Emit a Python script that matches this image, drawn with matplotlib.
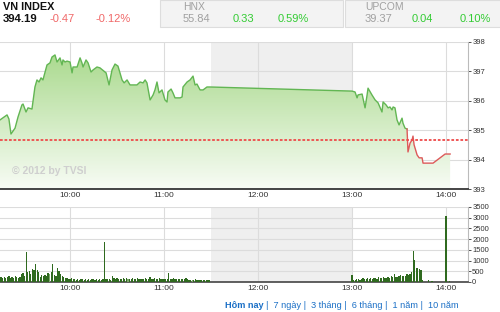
import numpy as np
import matplotlib
matplotlib.use("Agg")
import matplotlib.pyplot as plt
from matplotlib.colors import LinearSegmentedColormap
from matplotlib.patches import Rectangle

plt.rcParams['font.family'] = ['Liberation Sans', 'DejaVu Sans']

# index line: minutes after 09:00 and index value
line_min = [15.3, 19.8, 21.0, 22.3, 24.9, 26.8, 29.3, 30.0, 31.9, 33.2, 35.7, 37.6, 38.9, 40.2,
            41.5, 42.7, 45.3, 47.2, 48.5, 50.4, 51.7, 53.6, 54.9, 55.5, 56.8, 58.1, 60.0, 61.3,
            61.9, 64.5, 66.4, 67.6, 68.3, 70.2, 71.5, 73.4, 74.7, 77.2, 79.1, 83.0, 84.9, 86.8,
            88.7, 90.6, 93.2, 94.5, 96.4, 98.3, 102.7, 104.7, 106.6, 107.9, 109.1, 111.1, 113.0,
            114.2, 115.5, 116.8, 118.7, 120.6, 121.9, 122.5, 124.5, 125.7, 127.0, 130.2, 131.5,
            132.1, 134.7, 136.6, 138.5, 139.8, 141.0, 143.0, 144.9, 147.4, 149.3,
            240.0, 241.9, 243.2, 243.8, 246.4, 248.3, 249.6, 250.2, 252.7, 254.7, 256.6, 259.1,
            259.8, 261.7, 263.0, 264.2, 265.5, 266.2, 267.4, 268.7, 270.0, 271.9, 272.5, 273.8,
            275.1, 275.7, 277.0, 278.3, 278.9, 279.6, 281.5, 282.8, 284.7, 285.3, 291.7, 299.4,
            302.6]
line_val = [395.35, 395.52, 395.38, 394.87, 395.07, 395.45, 395.86, 395.89, 395.62, 395.76,
            395.72, 396.47, 396.71, 396.64, 396.78, 396.71, 397.22, 397.29, 397.49, 397.56,
            397.32, 397.46, 397.22, 397.39, 397.32, 397.35, 397.32, 396.95, 397.15, 397.15,
            397.46, 397.29, 397.15, 397.39, 397.29, 396.98, 397.05, 397.15, 397.12, 396.95,
            396.54, 397.05, 397.25, 397.18, 396.71, 396.61, 396.71, 396.54, 396.54, 396.64,
            396.61, 396.71, 396.61, 396.03, 396.20, 396.37, 396.64, 396.27, 396.37, 396.03,
            395.96, 396.30, 396.40, 396.27, 396.10, 396.10, 396.13, 396.47, 396.64, 396.71,
            396.84, 396.54, 396.57, 396.37, 396.37, 396.47, 396.47,
            396.33, 396.30, 396.10, 396.20, 396.23, 395.76, 396.20, 396.43, 396.20, 396.03,
            395.93, 395.62, 395.96, 395.86, 395.76, 395.79, 395.69, 395.79, 395.76, 395.35,
            395.18, 395.41, 395.24, 395.07, 395.04, 394.26, 394.56, 394.67, 394.80, 394.50,
            394.16, 394.06, 394.06, 393.88, 393.88, 394.19, 394.19]
red_from = 275.1
prev_close = 394.66

# volume per minute, morning from 09:15, afternoon from 13:00
vol_am = [2850,
          220, 180, 250, 200, 230, 260, 190, 240, 210, 270, 230, 200, 250,
          380, 420, 300, 1420, 450, 520, 380, 600, 570, 820, 560, 480, 240,
          330, 280, 350, 300, 420, 380, 450, 830, 320, 280, 650, 520, 380, 300, 250,
          200, 180, 160, 140, 170, 130,
          120, 110, 130, 100, 120, 140, 110, 120, 100, 130, 110, 120, 140, 100, 120, 110, 130, 100, 120,
          1890, 130, 120, 140, 110, 270, 180, 160, 200, 150,
          150, 130, 170, 140, 200, 150, 130, 160, 180, 140, 150, 200, 130, 160, 150,
          140, 170, 130, 150, 220, 160, 140, 200, 150, 130, 170, 150, 140, 160, 130,
          150, 400,
          150, 130, 170, 140, 150, 130, 160, 140, 130, 150, 200,
          120, 100, 110, 90, 100, 120, 90, 100, 110, 80, 100, 90, 110, 80, 90]
vol_pm = [350, 100, 80, 150, 120, 100,
          150, 180, 140, 130, 200, 160, 170, 140, 180, 200, 150,
          220, 200, 180, 250, 210, 190, 230, 200, 260,
          220, 390, 240, 250, 280, 310, 260, 300, 290,
          360, 340, 380, 470, 1450, 1020, 650, 640, 630, 580, 100,
          0, 0, 0, 100, 0, 50, 0, 0, 0, 0, 0, 0, 0, 0, 3100, 0, 50]
vol_am_start = 15
vol_pm_start = 240
light_bars = [32, 82, 123, 279]

hours = [10, 11, 12, 13, 14]
hour_labels = ['10:00', '11:00', '12:00', '13:00', '14:00']
price_ticks = [393, 394, 395, 396, 397, 398]
vol_ticks = [0, 500, 1000, 1500, 2000, 2500, 3000, 3500]

x = 9 + np.array(line_min) / 60
y = np.array(line_val)
xlim = (9 + 15.3 / 60, 9 + 314 / 60)

fig = plt.figure(figsize=(5, 3.12), dpi=100)

# header
fig.patches.append(Rectangle((160 / 500, 1 - 27 / 312), 183 / 500, 27 / 312, transform=fig.transFigure,
                             facecolor='#f3f3f3', edgecolor='#dddddd', lw=0.8))
fig.patches.append(Rectangle((345 / 500, 1 - 27 / 312), 160 / 500, 27 / 312, transform=fig.transFigure,
                             facecolor='#f3f3f3', edgecolor='#dddddd', lw=0.8))

def ftext(px, py, s, **kw):
    return fig.text(px / 500, 1 - py / 312, s, va='center', ha='left', **kw)

ftext(3, 7, 'VN INDEX', fontsize=7.8, fontweight='bold', color='#111111')
ftext(3, 19, '394.19', fontsize=8.2, fontweight='bold', color='#111111')
ftext(49, 19, '-0.47', fontsize=8, color='#f06868')
ftext(96, 19, '-0.12%', fontsize=8, color='#f06868')
ftext(183, 7, 'HNX', fontsize=7.5, color='#a0a0a0')
ftext(183, 19, '55.84', fontsize=8, color='#a0a0a0')
ftext(233, 19, '0.33', fontsize=8, color='#33cc33')
ftext(278, 19, '0.59%', fontsize=8, color='#33cc33')
ftext(365, 7, 'UPCOM', fontsize=7.5, color='#a0a0a0')
ftext(365, 19, '39.37', fontsize=8, color='#a0a0a0')
ftext(412, 19, '0.04', fontsize=8, color='#33cc33')
ftext(460, 19, '0.10%', fontsize=8, color='#33cc33')

# price chart
ax = fig.add_axes([0, 1 - 189 / 312, 468 / 500, 147 / 312])
ax.axvspan(11.5, 13, color='#efefef', lw=0, zorder=0)
cmap = LinearSegmentedColormap.from_list('g', ['#f8fcf5', '#a4d786'])
grad = np.linspace(0, 1, 256).reshape(-1, 1)
im = ax.imshow(grad, extent=[xlim[0], xlim[1], 393, 398], origin='lower', aspect='auto',
               cmap=cmap, zorder=1)
poly = ax.fill_between(x, y, 393, facecolor='none', edgecolor='none')
im.set_clip_path(poly.get_paths()[0], transform=ax.transData)
green = np.array(line_min) <= red_from
red = np.array(line_min) >= red_from
ax.plot(x[green], y[green], color='#62b653', lw=1.0, zorder=3)
ax.plot(x[red], y[red], color='#dd5a5a', lw=1.0, zorder=3)
ax.axhline(prev_close, color='#ee4a4a', lw=1.3, ls=(0, (1.5, 1)), zorder=4)
ax.text(9 + 15.3 / 60 + 0.13, 393.6, '\u00a9 2012 by TVSI', fontsize=7.5, fontweight='bold',
        color='#cfcfcf', va='center', ha='left', zorder=5)

ax.set_xlim(*xlim)
ax.set_ylim(393, 398)
ax.set_xticks(hours)
ax.set_xticklabels(hour_labels)
ax.set_yticks(price_ticks)
ax.yaxis.tick_right()
ax.grid(True, color='#dcdcdc', lw=0.8, zorder=0.5)
ax.set_axisbelow(True)
for s in ['top', 'left']:
    ax.spines[s].set_visible(False)
ax.spines['right'].set_color('#bbbbbb')
ax.spines['right'].set_linewidth(0.8)
ax.spines['bottom'].set_color('#444444')
ax.spines['bottom'].set_linewidth(1.4)
ax.tick_params(axis='x', length=0, labelsize=6, colors='#333333', pad=2)
ax.tick_params(axis='y', length=2, labelsize=5.5, colors='#333333', pad=1, width=0.6)

# volume chart
axv = fig.add_axes([0, 1 - 282 / 312, 468 / 500, 75 / 312])
axv.axvspan(11.5, 13, color='#efefef', lw=0, zorder=0)
t_vol = [vol_am_start + i for i in range(len(vol_am))] + [vol_pm_start + i for i in range(len(vol_pm))]
v_vol = vol_am + vol_pm
cols = ['#7ea66c' if i in light_bars else '#2f6a1f' for i in range(len(v_vol))]
axv.bar(9 + np.array(t_vol) / 60, v_vol, width=0.8 / 60, color=cols, lw=0, zorder=3)
axv.set_xlim(*xlim)
axv.set_ylim(0, 3500)
axv.set_xticks(hours)
axv.set_xticklabels(hour_labels)
axv.set_yticks(vol_ticks)
axv.yaxis.tick_right()
axv.grid(True, color='#dcdcdc', lw=0.8, zorder=0.5)
axv.set_axisbelow(True)
for s in ['top', 'left']:
    axv.spines[s].set_visible(False)
axv.spines['right'].set_color('#bbbbbb')
axv.spines['right'].set_linewidth(0.8)
axv.spines['bottom'].set_color('#444444')
axv.spines['bottom'].set_linewidth(1.2)
axv.tick_params(axis='x', length=0, labelsize=6, colors='#333333', pad=2)
axv.tick_params(axis='y', length=2, labelsize=5.5, colors='#333333', pad=1, width=0.6)

# period links: place the rest right after the bold label
t0 = ftext(225, 305, 'Hôm nay', fontsize=6.6, fontweight='bold', color='#1a6fc6')
fig.canvas.draw()
bb = t0.get_window_extent()
fig.text(bb.x1 / fig.bbox.width + 2 / 500, 1 - 305 / 312,
         '|  7 ngày |  3 tháng |  6 tháng |  1 năm |  10 năm',
         fontsize=6.6, color='#1a6fc6', va='center', ha='left')

fig.savefig('out.png', dpi=100)
